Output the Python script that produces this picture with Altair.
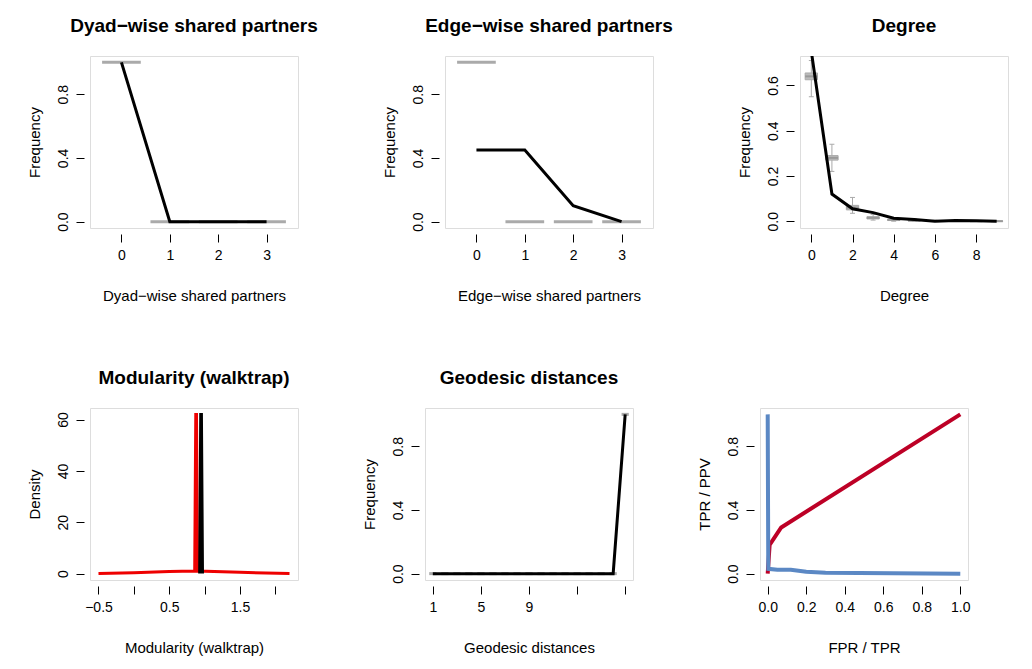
import altair as alt
import pandas as pd

# Dyad-wise / edge-wise shared partners
sp_x = [0, 1, 2, 3]
dsp_obs = [1.0, 0.0, 0.0, 0.0]
dsp_sim = [1.0, 0.0, 0.0, 0.0]
esp_obs = [0.45, 0.45, 0.1, 0.0]
esp_sim = [1.0, 0.0, 0.0, 0.0]

# Degree
deg_x = [0, 1, 2, 3, 4, 5, 6, 7, 8, 9]
deg_obs = [0.75, 0.12, 0.055, 0.038, 0.013, 0.008, 0.0, 0.003, 0.002, 0.0]
deg_med = [0.64, 0.28, 0.06, 0.015, 0.006, 0.003, 0.001, 0.001, 0.0, 0.0]
deg_q1 = [0.625, 0.27, 0.05, 0.01, 0.003, 0.001, 0.0, 0.0, 0.0, 0.0]
deg_q3 = [0.655, 0.29, 0.07, 0.02, 0.009, 0.005, 0.002, 0.002, 0.001, 0.001]
deg_lo = [0.55, 0.22, 0.035, 0.005, 0.0, 0.0, 0.0, 0.0, 0.0, 0.0]
deg_hi = [0.71, 0.34, 0.105, 0.03, 0.015, 0.01, 0.004, 0.004, 0.002, 0.002]

# Modularity densities
mod_sim_x = [-0.5, 0.0, 0.5, 0.86, 0.875, 0.885, 0.9, 1.5, 2.2]
mod_sim_y = [0.0, 0.3, 0.8, 1.0, 62.0, 62.0, 1.0, 0.5, 0.0]
mod_obs_x = [0.93, 0.945, 0.955, 0.97]
mod_obs_y = [0.0, 62.0, 62.0, 0.0]

# Geodesic distances (17 = Inf)
geo_x = list(range(1, 18))
geo_obs = [0.0] * 16 + [1.0]
geo_sim = [0.0] * 16 + [1.0]
geo_ticks = [1, 3, 5, 7, 9, 12, 15]

# ROC / PR
roc_fpr = [0.0, 0.01, 0.07, 1.0]
roc_tpr = [0.0, 0.18, 0.29, 1.0]
pr_tpr = [0.0, 0.003, 0.05, 0.12, 0.2, 0.3, 1.0]
pr_ppv = [1.0, 0.03, 0.025, 0.025, 0.012, 0.005, 0.0]

FONT = "Liberation Sans"
W, H = 208, 172
GREY = "#aaaaaa"


def xax(title, values=None, labels=None):
    kw = dict(title=title, domain=False, tickColor="black", labelFontSize=14,
              titleFontSize=15, titleFontWeight="normal", labelColor="black",
              titleColor="black", offset=6, tickSize=8, labelPadding=6,
              titlePadding=26, grid=False, labelFont=FONT, titleFont=FONT,
              labelOverlap=False)
    if values is not None:
        kw["values"] = values
    if labels is not None:
        kw["labelExpr"] = labels
    return alt.Axis(**kw)


def yax(title, values, labels):
    return alt.Axis(title=title, values=values, labelExpr=labels, domain=False,
                    tickColor="black", labelFontSize=14, titleFontSize=15,
                    titleFontWeight="normal", labelColor="black", titleColor="black",
                    labelAngle=-90, labelAlign="center", labelBaseline="bottom",
                    offset=6, tickSize=8, labelPadding=6, titlePadding=14, grid=False,
                    labelFont=FONT, titleFont=FONT, labelOverlap=False)


def title(t):
    return alt.TitleParams(t, fontSize=19, fontWeight="bold", font=FONT, offset=20)


freq_vals = [0, 0.2, 0.4, 0.6, 0.8, 1.0]
freq_lab = "(round(datum.value*10) % 4 == 0) ? format(datum.value, '.1f') : ''"


def sp_panel(obs, sim, name):
    df = pd.DataFrame({"x": sp_x, "obs": obs, "sim": sim})
    xs = alt.Scale(domain=[-0.65, 3.65], nice=False)
    ys = alt.Scale(domain=[-0.04, 1.04], nice=False)
    base = alt.Chart(df)
    sim_m = base.transform_calculate(a="datum.x-0.4", b="datum.x+0.4").mark_rule(
        color=GREY, strokeWidth=3).encode(
        x=alt.X("a:Q", scale=xs, axis=xax(name, sp_x, "datum.label")),
        x2="b:Q", y=alt.Y("sim:Q", scale=ys, axis=yax("Frequency", freq_vals, freq_lab)))
    obs_m = base.mark_line(color="black", strokeWidth=3).encode(x="x:Q", y="obs:Q")
    return (sim_m + obs_m).properties(width=W, height=H, title=title(name))


p1 = sp_panel(dsp_obs, dsp_sim, "Dyad\u2212wise shared partners")
p2 = sp_panel(esp_obs, esp_sim, "Edge\u2212wise shared partners")

deg = pd.DataFrame({"x": deg_x, "obs": deg_obs, "med": deg_med, "q1": deg_q1,
                    "q3": deg_q3, "lo": deg_lo, "hi": deg_hi})
dxs = alt.Scale(domain=[-0.55, 9.55], nice=False)
dys = alt.Scale(domain=[-0.03, 0.73], nice=False)
dbase = alt.Chart(deg).transform_calculate(a="datum.x-0.3", b="datum.x+0.3",
                                           c="datum.x-0.12", d="datum.x+0.12")
d_wh = dbase.mark_rule(color=GREY, strokeWidth=1).encode(
    x=alt.X("x:Q", scale=dxs, axis=xax("Degree", deg_x,
                                       "datum.value % 2 == 0 ? datum.label : ''")),
    y=alt.Y("lo:Q", scale=dys, axis=yax("Frequency", [0, 0.1, 0.2, 0.3, 0.4, 0.5, 0.6],
                                        "(round(datum.value*10) % 2 == 0) ? format(datum.value, '.1f') : ''")),
    y2="hi:Q")
d_cap1 = dbase.mark_rule(color=GREY).encode(x="c:Q", x2="d:Q", y="lo:Q")
d_cap2 = dbase.mark_rule(color=GREY).encode(x="c:Q", x2="d:Q", y="hi:Q")
d_box = dbase.mark_rect(color="#bbbbbb", stroke=GREY).encode(x="a:Q", x2="b:Q", y="q1:Q", y2="q3:Q")
d_med = dbase.mark_rule(color="#999999", strokeWidth=2).encode(x="a:Q", x2="b:Q", y="med:Q")
d_obs = alt.Chart(deg).mark_line(color="black", strokeWidth=3, clip=True).encode(x="x:Q", y="obs:Q")
p3 = (d_wh + d_cap1 + d_cap2 + d_box + d_med + d_obs).properties(
    width=W, height=H, title=title("Degree"))

mx = alt.Scale(domain=[-0.62, 2.32], nice=False)
my = alt.Scale(domain=[-2.5, 64.5], nice=False)
m_sim = alt.Chart(pd.DataFrame({"x": mod_sim_x, "y": mod_sim_y, "o": range(len(mod_sim_x))})).mark_line(
    strokeWidth=3, color="#ee0000").encode(
    x=alt.X("x:Q", scale=mx,
            axis=xax("Modularity (walktrap)", [-0.5, 0, 0.5, 1, 1.5, 2],
                     "(abs(round(datum.value*2)) % 2 == 1) ? format(datum.value, '.1f') : ''")),
    y=alt.Y("y:Q", scale=my,
            axis=yax("Density", [0, 10, 20, 30, 40, 50, 60],
                     "datum.value % 20 == 0 ? datum.label : ''")),
    order="o:Q")
m_obs = alt.Chart(pd.DataFrame({"x": mod_obs_x, "y": mod_obs_y, "o": range(len(mod_obs_x))})).mark_line(
    strokeWidth=3, color="black").encode(x="x:Q", y="y:Q", order="o:Q")
p4 = (m_sim + m_obs).properties(width=W, height=H, title=title("Modularity (walktrap)"))

geo = pd.DataFrame({"x": geo_x, "obs": geo_obs, "sim": geo_sim})
gxs = alt.Scale(domain=[0.35, 17.65], nice=False)
gys = alt.Scale(domain=[-0.04, 1.04], nice=False)
g_sim = alt.Chart(geo).transform_calculate(a="datum.x-0.3", b="datum.x+0.3").mark_rule(
    color=GREY, strokeWidth=3).encode(
    x=alt.X("a:Q", scale=gxs, axis=xax("Geodesic distances", geo_x,
                                       "indexof(%s, datum.value) >= 0 ? datum.label : ''" % geo_ticks)),
    x2="b:Q", y=alt.Y("sim:Q", scale=gys, axis=yax("Frequency", freq_vals, freq_lab)))
g_obs = alt.Chart(geo).mark_line(color="black", strokeWidth=3).encode(x="x:Q", y="obs:Q")
p5 = (g_sim + g_obs).properties(width=W, height=H, title=title("Geodesic distances"))

rs = alt.Scale(domain=[-0.04, 1.04], nice=False)
r_roc = alt.Chart(pd.DataFrame({"x": roc_fpr, "y": roc_tpr, "o": range(len(roc_fpr))})).mark_line(
    strokeWidth=4, color="#bd0026").encode(
    x=alt.X("x:Q", scale=rs,
            axis=xax("FPR / TPR", [0, 0.2, 0.4, 0.6, 0.8, 1.0], "format(datum.value, '.1f')")),
    y=alt.Y("y:Q", scale=rs, axis=yax("TPR / PPV", freq_vals, freq_lab)),
    order="o:Q")
r_pr = alt.Chart(pd.DataFrame({"x": pr_tpr, "y": pr_ppv, "o": range(len(pr_tpr))})).mark_line(
    strokeWidth=4, color="#5b88c4").encode(x="x:Q", y="y:Q", order="o:Q")
p6 = (r_roc + r_pr).properties(width=W, height=H,
                               title=alt.TitleParams(" ", fontSize=19, offset=20))

chart = alt.vconcat(
    alt.hconcat(p1, p2, p3, spacing=62),
    alt.hconcat(p4, p5, p6, spacing=62),
    spacing=62,
).properties(padding={"left": 18, "top": 8, "right": 5, "bottom": 5}
             ).configure_view(stroke="black", strokeWidth=1.5).configure(font=FONT)

chart.save("out.html", embed_options={"renderer": "svg", "actions": False})
